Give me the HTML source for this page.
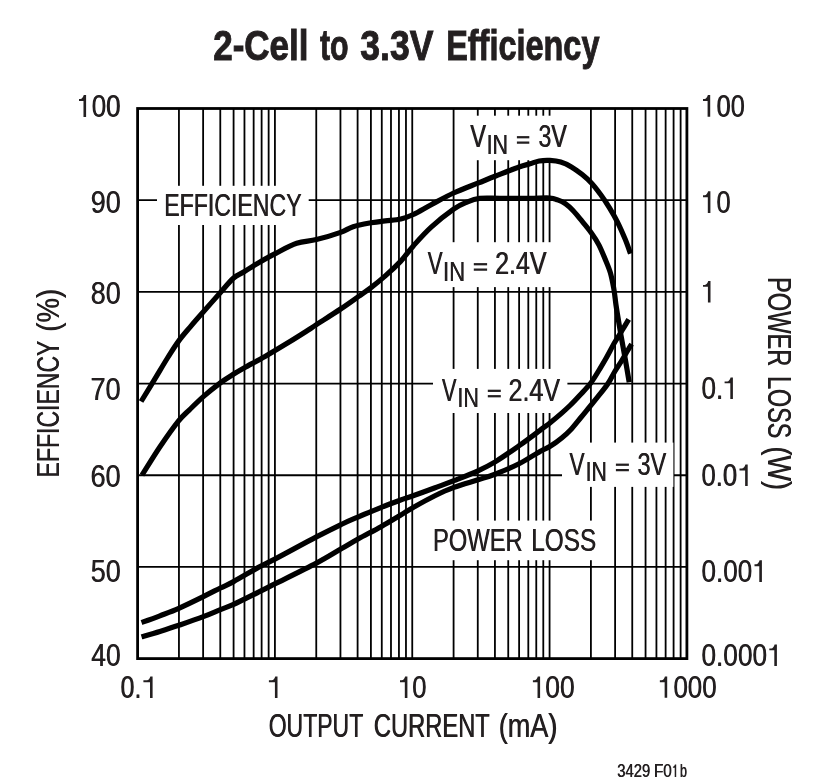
<!DOCTYPE html>
<html><head><meta charset="utf-8"><title>2-Cell to 3.3V Efficiency</title>
<style>
html,body{margin:0;padding:0;background:#fff;}
body{width:837px;height:782px;overflow:hidden;font-family:"Liberation Sans",sans-serif;}
svg{display:block;}
text{font-family:"Liberation Sans",sans-serif;}
</style></head><body>
<svg width="837" height="782" viewBox="0 0 837 782">
<rect width="837" height="782" fill="#fff"/>
<g stroke="#000" stroke-width="1.8" fill="none">
<line x1="178.94" y1="108.5" x2="178.94" y2="658.6"/>
<line x1="203.12" y1="108.5" x2="203.12" y2="658.6"/>
<line x1="220.28" y1="108.5" x2="220.28" y2="658.6"/>
<line x1="233.59" y1="108.5" x2="233.59" y2="658.6"/>
<line x1="244.46" y1="108.5" x2="244.46" y2="658.6"/>
<line x1="253.65" y1="108.5" x2="253.65" y2="658.6"/>
<line x1="261.62" y1="108.5" x2="261.62" y2="658.6"/>
<line x1="268.64" y1="108.5" x2="268.64" y2="658.6"/>
<line x1="274.92" y1="108.5" x2="274.92" y2="658.6"/>
<line x1="316.26" y1="108.5" x2="316.26" y2="658.6"/>
<line x1="340.45" y1="108.5" x2="340.45" y2="658.6"/>
<line x1="357.60" y1="108.5" x2="357.60" y2="658.6"/>
<line x1="370.91" y1="108.5" x2="370.91" y2="658.6"/>
<line x1="381.78" y1="108.5" x2="381.78" y2="658.6"/>
<line x1="390.98" y1="108.5" x2="390.98" y2="658.6"/>
<line x1="398.94" y1="108.5" x2="398.94" y2="658.6"/>
<line x1="405.97" y1="108.5" x2="405.97" y2="658.6"/>
<line x1="412.25" y1="108.5" x2="412.25" y2="658.6"/>
<line x1="453.59" y1="108.5" x2="453.59" y2="658.6"/>
<line x1="477.77" y1="108.5" x2="477.77" y2="658.6"/>
<line x1="494.93" y1="108.5" x2="494.93" y2="658.6"/>
<line x1="508.24" y1="108.5" x2="508.24" y2="658.6"/>
<line x1="519.11" y1="108.5" x2="519.11" y2="658.6"/>
<line x1="528.30" y1="108.5" x2="528.30" y2="658.6"/>
<line x1="536.27" y1="108.5" x2="536.27" y2="658.6"/>
<line x1="543.29" y1="108.5" x2="543.29" y2="658.6"/>
<line x1="549.57" y1="108.5" x2="549.57" y2="658.6"/>
<line x1="590.91" y1="108.5" x2="590.91" y2="658.6"/>
<line x1="615.10" y1="108.5" x2="615.10" y2="658.6"/>
<line x1="632.25" y1="108.5" x2="632.25" y2="658.6"/>
<line x1="645.56" y1="108.5" x2="645.56" y2="658.6"/>
<line x1="656.43" y1="108.5" x2="656.43" y2="658.6"/>
<line x1="665.63" y1="108.5" x2="665.63" y2="658.6"/>
<line x1="673.59" y1="108.5" x2="673.59" y2="658.6"/>
<line x1="680.62" y1="108.5" x2="680.62" y2="658.6"/>
<line x1="137.6" y1="200.18" x2="686.9" y2="200.18"/>
<line x1="137.6" y1="291.87" x2="686.9" y2="291.87"/>
<line x1="137.6" y1="383.55" x2="686.9" y2="383.55"/>
<line x1="137.6" y1="475.23" x2="686.9" y2="475.23"/>
<line x1="137.6" y1="566.92" x2="686.9" y2="566.92"/>
</g>
<g fill="#fff">
<rect x="157.0" y="185.8" width="151.7" height="39.2"/>
<rect x="461.3" y="115.7" width="112.7" height="44.5"/>
<rect x="418.7" y="242.2" width="135.1" height="44.9"/>
<rect x="433.0" y="368.9" width="134.4" height="44.1"/>
<rect x="562.0" y="442.6" width="111.4" height="44.3"/>
<rect x="426.0" y="520.6" width="177.0" height="39.6"/>
</g>
<rect x="137.6" y="108.5" width="549.3" height="550.1" fill="none" stroke="#000" stroke-width="2.8"/>
<g stroke="#000" stroke-width="5.2" fill="none" stroke-linejoin="round" stroke-linecap="butt">
<path d="M141.1,401.5 C143.5,397.6 151.1,385.2 155.5,377.9 C159.9,370.6 164.0,363.6 167.8,357.5 C171.7,351.4 174.8,346.2 178.6,341.1 C182.3,336.0 186.2,331.7 190.3,326.8 C194.4,321.9 198.2,317.6 203.2,312.0 C208.1,306.4 215.0,298.6 220.0,293.0 C225.0,287.4 229.2,281.8 233.3,278.2 C237.4,274.6 240.1,274.2 244.5,271.5 C248.9,268.8 254.9,264.9 260.0,261.9 C265.1,258.9 269.1,256.7 275.2,253.6 C281.3,250.5 289.8,245.6 296.7,243.3 C303.6,241.0 309.1,241.4 316.4,239.6 C323.7,237.8 334.5,234.6 340.6,232.4 C346.7,230.2 348.0,228.3 353.1,226.7 C358.2,225.1 365.6,223.8 371.0,222.8 C376.4,221.8 380.3,221.4 385.3,220.8 C390.3,220.2 396.1,220.1 400.8,219.0 C405.5,217.9 408.2,216.9 413.3,214.5 C418.4,212.1 424.5,208.3 431.2,204.7 C437.9,201.1 445.8,196.6 453.6,193.0 C461.4,189.4 470.8,186.0 477.8,183.2 C484.8,180.4 488.8,178.7 495.7,176.0 C502.6,173.3 513.3,169.0 519.0,167.0 C524.7,165.0 526.6,164.8 530.0,163.8 C533.4,162.8 535.9,161.6 539.2,161.0 C542.5,160.4 546.3,160.2 549.9,160.4 C553.5,160.6 557.1,160.9 560.7,162.0 C564.3,163.1 567.8,164.8 571.4,166.9 C575.0,169.0 578.9,171.9 582.2,174.6 C585.5,177.3 588.3,179.7 591.4,183.0 C594.5,186.3 597.5,190.3 600.6,194.5 C603.7,198.7 607.0,203.7 609.8,208.3 C612.6,212.9 615.0,217.0 617.5,222.1 C620.0,227.2 622.9,233.8 625.1,239.0 C627.3,244.2 629.6,251.2 630.5,253.6"/>
<path d="M142.0,475.2 C145.0,470.5 153.9,455.8 160.0,446.8 C166.1,437.8 173.5,427.3 178.4,421.2 C183.3,415.1 185.0,414.2 189.2,410.1 C193.4,406.0 198.5,400.9 203.6,396.4 C208.7,391.9 215.1,386.8 220.0,383.1 C224.9,379.4 229.2,376.9 233.3,374.3 C237.4,371.7 239.2,370.7 244.5,367.7 C249.8,364.7 257.4,360.8 265.0,356.4 C272.6,352.0 282.8,345.9 290.0,341.5 C297.2,337.1 303.9,332.8 308.3,330.0 C312.7,327.2 311.0,328.1 316.4,324.6 C321.8,321.1 333.6,313.7 340.6,309.0 C347.6,304.3 353.4,300.1 358.5,296.5 C363.6,292.9 366.5,291.0 371.0,287.6 C375.5,284.2 380.3,280.3 385.3,275.9 C390.3,271.5 396.1,266.1 400.8,261.1 C405.5,256.1 408.2,251.6 413.3,245.9 C418.4,240.2 424.5,233.2 431.2,227.1 C437.9,221.0 447.6,213.3 453.6,209.1 C459.6,204.9 462.8,203.8 467.1,202.0 C471.4,200.2 474.1,199.0 479.6,198.4 C485.1,197.8 491.6,198.3 500.0,198.3 C508.4,198.3 521.7,198.4 530.0,198.3 C538.3,198.2 545.3,197.7 549.9,198.0 C554.5,198.3 555.0,199.0 557.6,199.9 C560.2,200.8 562.7,201.9 565.3,203.7 C567.9,205.5 570.2,207.6 573.0,210.6 C575.8,213.6 579.1,217.7 582.2,221.4 C585.3,225.1 588.6,229.0 591.4,232.9 C594.2,236.8 596.8,240.8 599.0,245.1 C601.2,249.4 603.0,253.9 604.9,258.5 C606.8,263.1 608.8,267.5 610.3,272.5 C611.8,277.5 612.8,283.2 613.8,288.6 C614.8,294.0 615.2,299.6 616.0,305.0 C616.8,310.4 617.6,315.3 618.6,321.3 C619.6,327.3 620.8,334.4 622.0,341.0 C623.2,347.6 624.4,354.1 625.6,361.0 C626.8,367.9 628.6,378.8 629.2,382.3"/>
<path d="M141.5,622.5 C144.6,621.4 153.7,618.2 159.9,615.8 C166.1,613.4 171.6,611.5 178.8,608.3 C186.0,605.1 196.4,600.0 203.3,596.6 C210.2,593.2 215.4,590.5 220.4,588.0 C225.4,585.5 227.0,585.2 233.6,581.6 C240.2,578.0 253.1,570.3 260.0,566.5 C266.9,562.7 265.9,563.8 275.3,558.9 C284.7,554.0 305.4,542.6 316.4,536.9 C327.4,531.2 334.2,527.9 341.2,524.5 C348.2,521.1 351.8,519.7 358.5,516.8 C365.2,513.9 374.5,510.1 381.4,507.3 C388.3,504.5 394.8,502.1 400.0,500.2 C405.2,498.3 406.7,498.0 412.4,496.0 C418.1,494.0 427.5,490.6 434.4,488.0 C441.3,485.4 446.6,483.6 453.9,480.7 C461.2,477.8 471.1,474.0 478.0,470.8 C484.9,467.6 488.7,465.8 495.6,461.6 C502.5,457.4 512.1,450.6 519.5,445.4 C526.9,440.2 534.9,434.1 540.0,430.3 C545.1,426.5 546.6,425.6 550.2,422.7 C553.8,419.8 558.4,416.0 561.7,413.1 C565.0,410.2 567.0,408.4 570.0,405.5 C573.0,402.6 576.2,399.2 579.6,395.5 C583.0,391.8 587.2,387.7 590.4,383.5 C593.6,379.3 596.2,374.8 598.8,370.5 C601.4,366.2 603.5,362.8 606.2,358.0 C608.9,353.2 612.4,346.4 615.1,341.8 C617.8,337.2 619.9,333.9 622.2,330.2 C624.5,326.4 627.6,321.1 628.7,319.3"/>
<path d="M141.5,636.8 C144.6,635.9 153.7,633.3 159.9,631.4 C166.1,629.5 171.6,627.8 178.8,625.3 C186.0,622.8 196.4,619.2 203.3,616.6 C210.2,614.0 215.4,611.6 220.4,609.6 C225.4,607.6 227.0,607.4 233.6,604.4 C240.2,601.4 253.1,594.8 260.0,591.4 C266.9,588.0 265.9,588.4 275.3,583.7 C284.7,579.0 305.4,568.9 316.4,563.1 C327.4,557.3 334.2,552.8 341.2,548.8 C348.2,544.8 351.8,542.5 358.5,538.8 C365.2,535.1 374.5,530.3 381.4,526.4 C388.3,522.5 394.8,518.5 400.0,515.4 C405.2,512.3 406.7,511.1 412.4,507.9 C418.1,504.7 427.5,499.4 434.4,496.0 C441.3,492.6 446.6,490.1 453.9,487.4 C461.2,484.7 471.1,482.0 478.0,479.8 C484.9,477.6 488.7,476.7 495.6,474.0 C502.5,471.3 512.1,467.3 519.5,463.5 C526.9,459.7 534.9,454.3 540.0,451.4 C545.1,448.5 546.6,448.5 550.2,446.3 C553.8,444.1 558.3,440.8 561.7,438.0 C565.1,435.2 567.5,433.1 570.7,429.7 C573.9,426.3 578.0,420.9 580.9,417.5 C583.8,414.1 585.1,412.4 587.9,409.0 C590.7,405.6 594.1,401.4 597.5,397.2 C600.9,392.9 605.1,387.9 608.0,383.5 C610.9,379.1 612.8,374.8 615.1,371.0 C617.4,367.2 619.8,363.8 621.8,360.5 C623.8,357.2 625.8,353.7 627.4,351.0 C629.0,348.3 630.9,345.2 631.6,344.1"/>
</g>
<g opacity=".999" fill="#231f20">
<text transform="translate(213.16,59.60) scale(0.8230,1)" font-size="42.57" font-weight="bold" stroke="#231f20" stroke-width="1.0">2-Cell</text>
<text transform="translate(319.95,59.60) scale(0.7124,1)" font-size="42.57" font-weight="bold" stroke="#231f20" stroke-width="1.0">to</text>
<text transform="translate(360.31,59.60) scale(0.8344,1)" font-size="42.57" font-weight="bold" stroke="#231f20" stroke-width="1.0">3.3V</text>
<text transform="translate(446.13,59.60) scale(0.7517,1)" font-size="43.19" font-weight="bold" stroke="#231f20" stroke-width="1.0">Efficiency</text>
<path d="M86.10,116.90 L86.10,95.00 L83.78,95.00 C83.17,97.32 81.86,98.94 80.35,99.04 L79.00,99.04 L79.00,100.95 L83.48,100.95 L83.48,116.90 Z"/>
<text transform="translate(91.70,116.90) scale(0.8295,1)" font-size="31.29" x="-0.332">00</text><text transform="translate(91.70,116.90) scale(0.8295,1)" font-size="31.29" x="0.332">00</text>
<text transform="translate(90.70,213.40) scale(0.8544,1)" font-size="31.57" x="-0.322">90</text><text transform="translate(90.70,213.40) scale(0.8544,1)" font-size="31.57" x="0.322">90</text>
<text transform="translate(90.70,303.80) scale(0.8506,1)" font-size="31.71" x="-0.323">80</text><text transform="translate(90.70,303.80) scale(0.8506,1)" font-size="31.71" x="0.323">80</text>
<text transform="translate(90.41,399.50) scale(0.8706,1)" font-size="31.29" x="-0.316">70</text><text transform="translate(90.41,399.50) scale(0.8706,1)" font-size="31.29" x="0.316">70</text>
<text transform="translate(90.41,486.50) scale(0.8706,1)" font-size="31.29" x="-0.316">60</text><text transform="translate(90.41,486.50) scale(0.8706,1)" font-size="31.29" x="0.316">60</text>
<text transform="translate(90.70,582.40) scale(0.8499,1)" font-size="31.74" x="-0.324">50</text><text transform="translate(90.70,582.40) scale(0.8499,1)" font-size="31.74" x="0.324">50</text>
<text transform="translate(91.25,666.20) scale(0.8459,1)" font-size="31.29" x="-0.325">40</text><text transform="translate(91.25,666.20) scale(0.8459,1)" font-size="31.29" x="0.325">40</text>
<path d="M710.20,116.80 L710.20,95.00 L707.89,95.00 C707.29,97.31 705.98,98.92 704.47,99.02 L703.00,99.02 L703.00,100.93 L707.59,100.93 L707.59,116.80 Z"/>
<text transform="translate(716.62,116.80) scale(0.8118,1)" font-size="31.14" x="-0.339">00</text><text transform="translate(716.62,116.80) scale(0.8118,1)" font-size="31.14" x="0.339">00</text>
<path d="M710.40,212.90 L710.40,191.30 L708.11,191.30 C707.51,193.59 706.22,195.18 704.73,195.28 L703.00,195.28 L703.00,197.17 L707.81,197.17 L707.81,212.90 Z"/>
<text transform="translate(716.41,212.90) scale(0.8234,1)" font-size="30.86" x="-0.334">0</text><text transform="translate(716.41,212.90) scale(0.8234,1)" font-size="30.86" x="0.334">0</text>
<path d="M710.50,302.50 L710.50,281.00 L708.22,281.00 C707.63,283.28 706.34,284.86 704.85,284.96 L703.00,284.96 L703.00,286.85 L707.92,286.85 L707.92,302.50 Z"/>
<text transform="translate(701.49,399.00) scale(0.8440,1)" font-size="30.86" x="-0.326">0.</text><text transform="translate(701.49,399.00) scale(0.8440,1)" font-size="30.86" x="0.326">0.</text>
<path d="M732.90,399.00 L732.90,377.40 L730.61,377.40 C730.01,379.69 728.72,381.28 727.23,381.38 L724.60,381.38 L724.60,383.27 L730.31,383.27 L730.31,399.00 Z"/>
<text transform="translate(701.51,486.00) scale(0.8388,1)" font-size="30.57" x="-0.328">0.0</text><text transform="translate(701.51,486.00) scale(0.8388,1)" font-size="30.57" x="0.328">0.0</text>
<path d="M747.70,486.00 L747.70,464.60 L745.43,464.60 C744.84,466.87 743.56,468.45 742.08,468.54 L739.50,468.54 L739.50,470.42 L745.14,470.42 L745.14,486.00 Z"/>
<text transform="translate(701.49,582.10) scale(0.8360,1)" font-size="31.14" x="-0.329">0.00</text><text transform="translate(701.49,582.10) scale(0.8360,1)" font-size="31.14" x="0.329">0.00</text>
<path d="M761.90,582.10 L761.90,560.30 L759.59,560.30 C758.99,562.61 757.68,564.22 756.17,564.32 L754.50,564.32 L754.50,566.23 L759.29,566.23 L759.29,582.10 Z"/>
<text transform="translate(701.49,666.00) scale(0.8493,1)" font-size="30.86" x="-0.324">0.000</text><text transform="translate(701.49,666.00) scale(0.8493,1)" font-size="30.86" x="0.324">0.000</text>
<path d="M776.90,666.00 L776.90,644.40 L774.61,644.40 C774.01,646.69 772.72,648.28 771.23,648.38 L769.30,648.38 L769.30,650.27 L774.31,650.27 L774.31,666.00 Z"/>
<text transform="translate(120.63,697.90) scale(0.8070,1)" font-size="30.71" x="-0.341">0.</text><text transform="translate(120.63,697.90) scale(0.8070,1)" font-size="30.71" x="0.341">0.</text>
<path d="M152.60,697.90 L152.60,676.40 L150.32,676.40 C149.73,678.68 148.44,680.26 146.95,680.36 L143.40,680.36 L143.40,682.25 L150.02,682.25 L150.02,697.90 Z"/>
<path d="M277.50,697.90 L277.50,676.40 L275.22,676.40 C274.63,678.68 273.34,680.26 271.85,680.36 L268.90,680.36 L268.90,682.25 L274.92,682.25 L274.92,697.90 Z"/>
<path d="M407.40,697.90 L407.40,676.40 L405.12,676.40 C404.53,678.68 403.24,680.26 401.75,680.36 L400.00,680.36 L400.00,682.25 L404.82,682.25 L404.82,697.90 Z"/>
<text transform="translate(412.21,697.90) scale(0.8339,1)" font-size="30.71" x="-0.330">0</text><text transform="translate(412.21,697.90) scale(0.8339,1)" font-size="30.71" x="0.330">0</text>
<path d="M540.10,697.90 L540.10,676.40 L537.82,676.40 C537.23,678.68 535.94,680.26 534.45,680.36 L532.90,680.36 L532.90,682.25 L537.52,682.25 L537.52,697.90 Z"/>
<text transform="translate(545.28,697.90) scale(0.8605,1)" font-size="30.71" x="-0.320">00</text><text transform="translate(545.28,697.90) scale(0.8605,1)" font-size="30.71" x="0.320">00</text>
<path d="M667.20,697.80 L667.20,676.40 L664.93,676.40 C664.34,678.67 663.06,680.25 661.58,680.34 L659.85,680.34 L659.85,682.22 L664.64,682.22 L664.64,697.80 Z"/>
<text transform="translate(673.40,697.80) scale(0.8482,1)" font-size="30.57" x="-0.324">000</text><text transform="translate(673.40,697.80) scale(0.8482,1)" font-size="30.57" x="0.324">000</text>
<text transform="translate(268.65,736.90) scale(0.7117,1)" font-size="32.32" x="-0.386">OUTPUT</text><text transform="translate(268.65,736.90) scale(0.7117,1)" font-size="32.32" x="0.386">OUTPUT</text>
<text transform="translate(373.89,736.90) scale(0.7338,1)" font-size="32.32" x="-0.375">CURRENT</text><text transform="translate(373.89,736.90) scale(0.7338,1)" font-size="32.32" x="0.375">CURRENT</text>
<text transform="translate(498.65,736.90) scale(0.8402,1)" font-size="32.32" x="-0.327">(mA)</text><text transform="translate(498.65,736.90) scale(0.8402,1)" font-size="32.32" x="0.327">(mA)</text>
<text transform="translate(617.33,776.90) scale(0.8369,1)" font-size="17.71" x="-0.329">3429</text><text transform="translate(617.33,776.90) scale(0.8369,1)" font-size="17.71" x="0.329">3429</text>
<text transform="translate(653.95,776.90) scale(0.8676,1)" font-size="17.71" x="-0.317">F0</text><text transform="translate(653.95,776.90) scale(0.8676,1)" font-size="17.71" x="0.317">F0</text>
<path d="M676.20,776.90 L676.20,764.50 L674.89,764.50 C674.54,765.81 673.80,766.73 672.94,766.79 L672.90,766.79 L672.90,767.87 L674.71,767.87 L674.71,776.90 Z"/>
<text transform="translate(679.92,776.90) scale(0.7056,1)" font-size="17.71" x="-0.390">b</text><text transform="translate(679.92,776.90) scale(0.7056,1)" font-size="17.71" x="0.390">b</text>
<text transform="translate(164.22,216.20) scale(0.7254,1)" font-size="31.88" x="-0.379">EFFICIENCY</text><text transform="translate(164.22,216.20) scale(0.7254,1)" font-size="31.88" x="0.379">EFFICIENCY</text>
<text transform="translate(432.97,551.00) scale(0.7528,1)" font-size="31.59" x="-0.365">POWER</text><text transform="translate(432.97,551.00) scale(0.7528,1)" font-size="31.59" x="0.365">POWER</text>
<text transform="translate(531.23,551.00) scale(0.7711,1)" font-size="31.59" x="-0.357">LOSS</text><text transform="translate(531.23,551.00) scale(0.7711,1)" font-size="31.59" x="0.357">LOSS</text>
<text transform="translate(470.38,147.40) scale(0.7462,1)" font-size="31.30" x="-0.369">V</text><text transform="translate(470.38,147.40) scale(0.7462,1)" font-size="31.30" x="0.369">V</text>
<text transform="translate(486.54,153.50) scale(0.7949,1)" font-size="27.10" x="-0.220">IN</text><text transform="translate(486.54,153.50) scale(0.7949,1)" font-size="27.10" x="0.220">IN</text>
<rect x="516.90" y="136.10" width="12.40" height="2.25"/><rect x="516.90" y="141.50" width="12.40" height="2.25"/>
<text transform="translate(538.48,147.40) scale(0.7411,1)" font-size="31.30" x="-0.371">3V</text><text transform="translate(538.48,147.40) scale(0.7411,1)" font-size="31.30" x="0.371">3V</text>
<text transform="translate(427.77,274.40) scale(0.7195,1)" font-size="31.01" x="-0.382">V</text><text transform="translate(427.77,274.40) scale(0.7195,1)" font-size="31.01" x="0.382">V</text>
<text transform="translate(442.97,280.90) scale(0.8084,1)" font-size="27.54" x="-0.216">IN</text><text transform="translate(442.97,280.90) scale(0.8084,1)" font-size="27.54" x="0.216">IN</text>
<rect x="473.80" y="263.10" width="13.30" height="2.25"/><rect x="473.80" y="268.50" width="13.30" height="2.25"/>
<text transform="translate(495.13,274.40) scale(0.8060,1)" font-size="31.01" x="-0.341">2.4V</text><text transform="translate(495.13,274.40) scale(0.8060,1)" font-size="31.01" x="0.341">2.4V</text>
<text transform="translate(442.07,401.00) scale(0.6969,1)" font-size="31.16" x="-0.395">V</text><text transform="translate(442.07,401.00) scale(0.6969,1)" font-size="31.16" x="0.395">V</text>
<text transform="translate(457.33,407.00) scale(0.7993,1)" font-size="27.10" x="-0.219">IN</text><text transform="translate(457.33,407.00) scale(0.7993,1)" font-size="27.10" x="0.219">IN</text>
<rect x="487.80" y="389.70" width="13.00" height="2.25"/><rect x="487.80" y="395.10" width="13.00" height="2.25"/>
<text transform="translate(508.42,401.00) scale(0.8071,1)" font-size="31.16" x="-0.341">2.4V</text><text transform="translate(508.42,401.00) scale(0.8071,1)" font-size="31.16" x="0.341">2.4V</text>
<text transform="translate(569.48,474.90) scale(0.7223,1)" font-size="31.30" x="-0.381">V</text><text transform="translate(569.48,474.90) scale(0.7223,1)" font-size="31.30" x="0.381">V</text>
<text transform="translate(585.56,480.80) scale(0.7861,1)" font-size="27.10" x="-0.223">IN</text><text transform="translate(585.56,480.80) scale(0.7861,1)" font-size="27.10" x="0.223">IN</text>
<rect x="615.90" y="463.60" width="13.00" height="2.25"/><rect x="615.90" y="469.00" width="13.00" height="2.25"/>
<text transform="translate(637.47,474.90) scale(0.7544,1)" font-size="31.30" x="-0.365">3V</text><text transform="translate(637.47,474.90) scale(0.7544,1)" font-size="31.30" x="0.365">3V</text>
<text transform="translate(59.10,477.47) rotate(-90) scale(0.7227,1)" font-size="31.88" x="-0.381">EFFICIENCY</text><text transform="translate(59.10,477.47) rotate(-90) scale(0.7227,1)" font-size="31.88" x="0.381">EFFICIENCY</text>
<text transform="translate(59.10,331.68) rotate(-90) scale(0.8645,1)" font-size="31.88" x="-0.318">(%)</text><text transform="translate(59.10,331.68) rotate(-90) scale(0.8645,1)" font-size="31.88" x="0.318">(%)</text>
<text transform="translate(768.30,276.98) rotate(90) scale(0.7326,1)" font-size="32.32" x="-0.375">POWER</text><text transform="translate(768.30,276.98) rotate(90) scale(0.7326,1)" font-size="32.32" x="0.375">POWER</text>
<text transform="translate(768.30,376.11) rotate(90) scale(0.7223,1)" font-size="32.32" x="-0.381">LOSS</text><text transform="translate(768.30,376.11) rotate(90) scale(0.7223,1)" font-size="32.32" x="0.381">LOSS</text>
<text transform="translate(768.30,446.45) rotate(90) scale(0.8361,1)" font-size="32.32" x="-0.329">(W)</text><text transform="translate(768.30,446.45) rotate(90) scale(0.8361,1)" font-size="32.32" x="0.329">(W)</text>
</g>
</svg>
</body></html>
